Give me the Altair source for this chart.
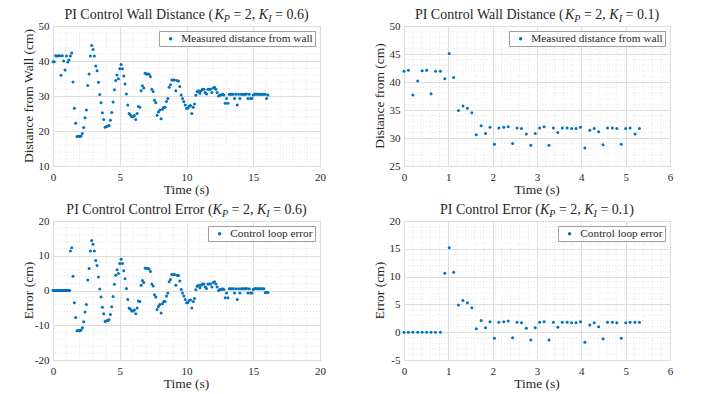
import altair as alt
import pandas as pd

FONT = "Liberation Serif"
BLUE = "#0072BD"
TXT = "#262626"
MINOR = "#e6e6e6"

# ---------------- data ----------------
# K_I = 0.6 run : measured distance
time_a = [0.0, 0.1, 0.2, 0.3, 0.4, 0.5, 0.6, 0.7, 0.8, 0.9,
          1.0, 1.1, 1.2, 1.3, 1.4, 1.5, 1.6, 1.7, 1.8, 1.9,
          2.0, 2.1, 2.2, 2.3, 2.4, 2.5, 2.6, 2.7, 2.8, 2.9,
          3.0, 3.1, 3.2, 3.3, 3.4, 3.5, 3.6, 3.7, 3.8, 3.9,
          4.0, 4.1, 4.2, 4.3, 4.4, 4.5, 4.6, 4.7, 4.8, 4.9,
          5.0, 5.1, 5.2, 5.3, 5.4, 5.5, 5.6, 5.7, 5.8, 5.9,
          6.0, 6.1, 6.2, 6.3, 6.4, 6.5, 6.6, 6.7, 6.8, 6.9,
          7.0, 7.1, 7.2, 7.3, 7.4, 7.5, 7.6, 7.7, 7.8, 7.9,
          8.0, 8.1, 8.2, 8.3, 8.4, 8.5, 8.6, 8.7, 8.8, 8.9,
          9.0, 9.1, 9.2, 9.3, 9.4, 9.5, 9.6, 9.7, 9.8, 9.9,
          10.0, 10.1, 10.2, 10.3, 10.4, 10.5, 10.6, 10.7, 10.8, 10.9,
          11.0, 11.1, 11.2, 11.3, 11.4, 11.5, 11.6, 11.7, 11.8, 11.9,
          12.0, 12.1, 12.2, 12.3, 12.4, 12.5, 12.6, 12.7, 12.8, 12.9,
          13.0, 13.1, 13.2, 13.3, 13.4, 13.5, 13.6, 13.7, 13.8, 13.9,
          14.0, 14.1, 14.2, 14.3, 14.4, 14.5, 14.6, 14.7, 14.8, 14.9,
          15.0, 15.1, 15.2, 15.3, 15.4, 15.5, 15.6, 15.7, 15.8, 15.9,
          16.0, 16.1]
wall_a = [39.8, 39.8, 41.5, 41.4, 41.5, 41.5, 35.9, 41.5, 40.0, 37.4,
          41.4, 39.7, 40.3, 41.4, 42.3, 34.0, 26.5, 22.2, 18.4, 18.5,
          18.4, 18.6, 19.3, 21.0, 23.8, 26.0, 33.0, 36.3, 41.4, 44.4,
          43.3, 41.4, 38.6, 37.2, 33.9, 30.4, 28.1, 25.2, 23.3, 21.1,
          21.3, 21.4, 21.6, 23.1, 25.3, 28.3, 31.8, 34.4, 36.0, 34.9,
          37.8, 39.0, 37.8, 35.7, 33.4, 30.6, 27.4, 25.0, 24.6, 24.1,
          24.1, 24.4, 23.3, 25.0, 27.0, 26.8, 31.5, 32.9, 32.3, 36.5,
          36.3, 36.3, 36.2, 35.5, 31.9, 31.3, 28.8, 28.1, 24.5, 25.4,
          26.0, 23.5, 26.2, 26.8, 26.8, 28.4, 29.3, 32.5, 33.2, 34.6,
          34.6, 34.6, 31.5, 34.4, 34.3, 32.7, 30.3, 29.3, 28.4, 27.4,
          26.5, 26.5, 27.1, 27.3, 25.0, 26.8, 27.7, 30.2, 31.2, 31.5,
          30.8, 31.5, 31.9, 31.9, 31.0, 30.6, 31.9, 31.9, 31.9, 31.0,
          32.3, 32.5, 31.9, 31.0, 30.0, 30.3, 30.3, 30.5, 30.3, 27.9,
          29.3, 27.9, 30.5, 30.5, 30.5, 30.5, 29.3, 30.5, 27.4, 30.5,
          29.3, 30.5, 30.5, 30.5, 30.5, 30.6, 29.3, 30.5, 29.3, 29.3,
          30.3, 30.5, 30.6, 30.5, 30.5, 30.5, 30.5, 30.5, 30.5, 30.5,
          29.3, 30.3]

# K_I = 0.6 run : control error (controller idle at start)
time_err_start = [0.0, 0.05, 0.1, 0.15, 0.2, 0.25, 0.3, 0.35, 0.4, 0.45,
                  0.5, 0.55, 0.6, 0.65, 0.7, 0.75, 0.8, 0.85, 0.9, 0.95,
                  1.0, 1.05, 1.1, 1.15, 1.2, 1.25]
time_err_a = time_err_start + time_a[13:]
err_a = [0.0] * 26 + [
    11.4, 12.3, 4.1, -3.5, -7.8, -11.6, -11.5,
    -11.6, -11.4, -10.7, -9.0, -6.2, -4.0, 3.0, 6.3, 11.4, 14.4,
    13.3, 11.4, 8.6, 7.2, 3.9, 0.4, -1.9, -4.8, -6.7, -8.9,
    -8.7, -8.6, -8.4, -6.9, -4.7, -1.7, 1.8, 4.4, 6.0, 4.9,
    7.8, 9.0, 7.8, 5.7, 3.4, 0.6, -2.6, -5.0, -5.4, -5.9,
    -5.9, -5.6, -6.7, -5.0, -3.0, -3.2, 1.5, 2.9, 2.3, 6.5,
    6.3, 6.3, 6.2, 5.5, 1.9, 1.3, -1.2, -1.9, -5.5, -4.6,
    -4.0, -6.5, -3.8, -3.2, -3.2, -1.6, -0.7, 2.5, 3.2, 4.6,
    4.6, 4.6, 1.5, 4.4, 4.3, 2.7, 0.3, -0.7, -1.6, -2.6,
    -3.5, -3.5, -2.9, -2.7, -5.0, -3.2, -2.3, 0.2, 1.2, 1.5,
    0.8, 1.5, 1.9, 1.9, 1.0, 0.6, 1.9, 1.9, 1.9, 1.0,
    2.3, 2.5, 1.9, 1.0, 0.0, 0.3, 0.3, 0.5, 0.3, -2.1,
    -0.7, -2.1, 0.5, 0.5, 0.5, 0.5, -0.7, 0.5, -2.6, 0.5,
    -0.7, 0.5, 0.5, 0.5, 0.5, 0.6, -0.7, 0.5, -0.7, -0.7,
    0.3, 0.5, 0.6, 0.5, 0.5, 0.5, 0.5, 0.5, 0.5, -0.6,
    -0.6, -0.6]

# K_I = 0.1 run
time_b = [0.0, 0.10, 0.20, 0.31, 0.41, 0.51, 0.61, 0.71, 0.82, 0.92,
          1.02, 1.12, 1.23, 1.33, 1.43, 1.53, 1.63, 1.74, 1.84, 1.94,
          2.04, 2.14, 2.25, 2.35, 2.45, 2.55, 2.65, 2.76, 2.86, 2.96,
          3.06, 3.16, 3.27, 3.37, 3.47, 3.57, 3.68, 3.78, 3.88, 3.98,
          4.08, 4.19, 4.29, 4.39, 4.49, 4.59, 4.70, 4.80, 4.90, 5.00,
          5.10, 5.21, 5.31]
wall_b = [41.9, 42.1, 37.7, 40.2, 42.0, 42.1, 37.9, 41.9, 41.9, 40.6,
          45.1, 40.8, 34.9, 35.7, 35.3, 34.5, 30.6, 32.2, 30.8, 31.9,
          28.9, 31.8, 31.9, 32.0, 29.0, 31.8, 31.7, 30.7, 28.7, 30.8,
          31.8, 32.0, 28.7, 31.8, 31.0, 31.8, 31.8, 31.7, 31.7, 31.9,
          28.2, 31.4, 31.7, 31.1, 28.8, 31.8, 31.8, 31.7, 28.9, 31.7,
          31.8, 30.7, 31.7]
err_b = [0.0, 0.0, 0.0, 0.0, 0.0, 0.0, 0.0, 0.0, 0.0, 10.6,
         15.2, 10.8, 4.9, 5.7, 5.3, 4.4, 0.6, 2.1, 0.8, 1.9,
         -1.1, 1.8, 1.9, 2.0, -1.0, 1.8, 1.7, 0.7, -1.4, 0.8,
         1.8, 1.9, -1.4, 1.8, 0.9, 1.8, 1.8, 1.7, 1.7, 1.9,
         -1.8, 1.3, 1.7, 1.0, -1.2, 1.8, 1.8, 1.7, -1.1, 1.7,
         1.8, 1.8, 1.8]

x_ticks_a = [0, 5, 10, 15, 20]
x_ticks_b = [0, 1, 2, 3, 4, 5, 6]
y_ticks_wall_a = [10, 20, 30, 40, 50]
y_ticks_err_a = [-20, -10, 0, 10, 20]
y_ticks_wall_b = [25, 30, 35, 40, 45, 50]
y_ticks_err_b = [-5, 0, 5, 10, 15, 20]

# ---------------- helpers ----------------
TW = {" ": 250, "(": 333, ")": 333, ",": 250, ".": 250, "=": 564, "-": 333}
for c in "0123456789":
    TW[c] = 500
TW.update(dict(A=722, B=667, C=667, D=722, E=611, F=556, G=722, H=722, I=333, J=389,
               K=722, L=611, M=889, N=722, O=722, P=556, Q=722, R=667, S=556, T=611,
               U=722, V=722, W=944, X=722, Y=722, Z=611))
TW.update(dict(a=444, b=500, c=444, d=500, e=444, f=333, g=500, h=500, i=278, j=278,
               k=500, l=278, m=778, n=500, o=500, p=500, q=500, r=333, s=389, t=278,
               u=500, v=500, w=722, x=500, y=500, z=444))
TI = {"K": 667, "P": 611, "I": 333}
ONE = pd.DataFrame({"k": [0]})


def text_width(s, size, italic=False):
    tot = 0
    for ch in s:
        if italic and ch in TI:
            tot += TI[ch]
        else:
            tot += TW.get(ch, 500)
    return tot * size / 1000.0


def minor_vals(lo, hi, step, majors):
    vals = []
    n = int(round((hi - lo) / step))
    for i in range(1, n):
        v = round(lo + i * step, 6)
        if all(abs(v - m) > 1e-9 for m in majors):
            vals.append(v)
    return vals


def title_marks(prefix, ki, w):
    T, S, Y = 14, 10, -7
    segs = [(prefix + " (", T, "normal", 0), ("K", T, "italic", 0), ("P", S, "italic", 3),
            (" = 2, ", T, "normal", 0), ("K", T, "italic", 0), ("I", S, "italic", 3),
            (" = " + ki + ")", T, "normal", 0)]
    widths = [text_width(s, sz, st == "italic") for s, sz, st, _ in segs]
    x = w / 2 - sum(widths) / 2
    marks = []
    for (s, sz, st, dy), wd in zip(segs, widths):
        lead = len(s) - len(s.lstrip(" "))
        xs = x + text_width(" " * lead, sz)
        marks.append(
            alt.Chart(ONE).mark_text(text=s.strip(), font=FONT, fontSize=sz, fontStyle=st,
                                     fontWeight="normal", align="left", baseline="alphabetic",
                                     color=TXT, dy=dy)
            .encode(x=alt.value(xs), y=alt.value(Y))
        )
        x += wd
    return marks


def axis_titles(xtitle, ytitle, w, h):
    xt = alt.Chart(ONE).mark_text(text=xtitle, font=FONT, fontSize=13.5, fontWeight="normal",
                                  align="center", baseline="alphabetic", color=TXT).encode(
        x=alt.value(w / 2), y=alt.value(h + 28))
    yt = alt.Chart(ONE).mark_text(text=ytitle, font=FONT, fontSize=13.5, fontWeight="normal",
                                  angle=270, align="center", baseline="alphabetic",
                                  color=TXT).encode(
        x=alt.value(-20), y=alt.value(h / 2))
    return [xt, yt]


NEG = "datum.value < 0 ? '-' + (-datum.value) : '' + datum.value"

AX_STYLE = dict(grid=True, gridColor="#dedede", gridWidth=1, domain=False, ticks=False,
                labelFont=FONT, labelFontSize=11, labelColor=TXT, labelFontWeight="normal",
                title=None)


def panel(t, v, label, xticks, xstep, yticks, ystep, ytitle, prefix, ki, w, h):
    df = pd.DataFrame({"t": t, "v": v, "s": [label] * len(t)})
    xdom = [xticks[0], xticks[-1]]
    ydom = [yticks[0], yticks[-1]]
    xs = alt.Scale(domain=xdom, nice=False, zero=False)
    ys = alt.Scale(domain=ydom, nice=False, zero=False)
    xax = alt.Axis(values=xticks, labelPadding=5, labelFlush=False, **AX_STYLE)
    yax = alt.Axis(values=yticks, labelExpr=NEG, labelPadding=4, **AX_STYLE)
    mx = pd.DataFrame({"t": minor_vals(xdom[0], xdom[1], xstep, xticks)})
    my = pd.DataFrame({"v": minor_vals(ydom[0], ydom[1], ystep, yticks)})
    vr = alt.Chart(mx).mark_rule(color=MINOR, strokeDash=[1, 2], strokeWidth=1).encode(
        x=alt.X("t:Q", scale=xs, axis=xax))
    hr = alt.Chart(my).mark_rule(color=MINOR, strokeDash=[1, 2], strokeWidth=1).encode(
        y=alt.Y("v:Q", scale=ys, axis=yax))
    pts = alt.Chart(df).mark_point(filled=True, size=9, opacity=1, shape="circle").encode(
        x=alt.X("t:Q", scale=xs, axis=xax),
        y=alt.Y("v:Q", scale=ys, axis=yax),
        color=alt.Color("s:N", scale=alt.Scale(range=[BLUE]),
                        legend=alt.Legend(title=None, orient="top-right", offset=5,
                                          fillColor="white", strokeColor="#a0a0a0",
                                          padding=2, labelFont=FONT, labelFontSize=11.3,
                                          labelColor=TXT, symbolType="circle", symbolSize=12,
                                          symbolStrokeWidth=0, symbolOffset=4, labelOffset=5,
                                          cornerRadius=0)),
    )
    return alt.layer(vr, hr, pts, *title_marks(prefix, ki, w),
                     *axis_titles("Time (s)", ytitle, w, h)).properties(width=w, height=h)


pA = panel(time_a, wall_a, "Measured distance from wall", x_ticks_a, 1, y_ticks_wall_a, 2,
           "Distance from Wall (cm)", "PI Control Wall Distance", "0.6", 267, 140)
pB = panel(time_b, wall_b, "Measured distance from wall", x_ticks_b, 0.2, y_ticks_wall_b, 1,
           "Distance from (cm)", "PI Control Wall Distance", "0.1", 266, 140)
pC = panel(time_err_a, err_a, "Control loop error", x_ticks_a, 1, y_ticks_err_a, 2,
           "Error (cm)", "PI Control Control Error", "0.6", 267, 139)
pD = panel(time_b, err_b, "Control loop error", x_ticks_b, 0.2, y_ticks_err_b, 1,
           "Error (cm)", "PI Control Error", "0.1", 266, 139)

row1 = alt.hconcat(pA, pB, spacing=46).resolve_scale(color="independent").resolve_legend(color="independent")
row2 = alt.hconcat(pC, pD, spacing=46).resolve_scale(color="independent").resolve_legend(color="independent")

chart = alt.vconcat(row1, row2, spacing=5).resolve_scale(
    color="independent"
).resolve_legend(
    color="independent"
).properties(
    padding={"left": 13, "top": -1, "right": 0, "bottom": 0},
    background="white",
).configure_view(
    stroke="#9a9a9a", strokeWidth=1
)

chart.save("out.html", embed_options={"renderer": "svg", "actions": False})
